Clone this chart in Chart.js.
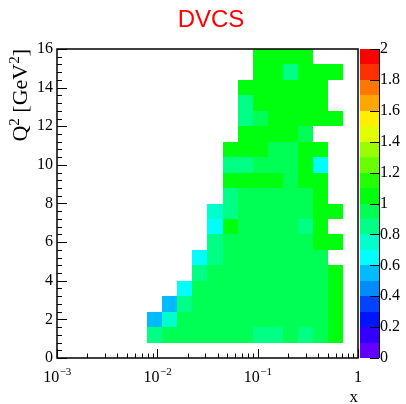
<!DOCTYPE html>
<html>
<head>
<meta charset="utf-8">
<script src="https://cdn.jsdelivr.net/npm/chart.js@4.4.0/dist/chart.umd.min.js"></script>
<style>
  html, body { margin: 0; padding: 0; background: #fff; }
  #wrap { width: 406px; height: 404px; }
</style>
</head>
<body>
<div id="wrap"><canvas id="dvcsChart" width="406" height="404"></canvas></div>
<script>
const _ = null;

// bin edges: 20 log bins in x, 20 bins in Q2
const xEdges = [0.001, 0.001413, 0.001995, 0.002818, 0.003981, 0.005623, 0.007943, 0.01122, 0.01585, 0.02239,
                0.03162, 0.04467, 0.06310, 0.08913, 0.1259, 0.1778, 0.2512, 0.3548, 0.5012, 0.7079, 1];
const q2Edges = [0, 0.8, 1.6, 2.4, 3.2, 4, 4.8, 5.6, 6.4, 7.2, 8, 8.8, 9.6, 10.4, 11.2, 12, 12.8, 13.6, 14.4, 15.2, 16];

// cell contents, one row per Q2 bin (bottom to top), one entry per x bin
const ratio = [
  [_,_,_,_,_,_,_,_,_,_,_,_,_,_,_,_,_,_,_,_],
  [_,_,_,_,_,_,.86,.96,.96,.96,.96,.96,.96,.86,.86,.96,.86,.96,1.04,_],
  [_,_,_,_,_,_,.56,.77,.96,.96,.96,.96,.96,.96,.96,.96,.96,.96,1.04,_],
  [_,_,_,_,_,_,_,.56,.86,.96,.96,.96,.96,.96,.96,.96,.96,.96,1.04,_],
  [_,_,_,_,_,_,_,_,.66,.96,.96,.96,.96,.96,.96,.96,.96,.96,1.04,_],
  [_,_,_,_,_,_,_,_,_,.86,.96,.96,.96,.96,.96,.96,.96,.96,1.04,_],
  [_,_,_,_,_,_,_,_,_,.66,.86,.96,.96,.96,.96,.96,.96,.96,_,_],
  [_,_,_,_,_,_,_,_,_,_,.86,.96,.96,.96,.96,.96,.96,1.04,1.04,_],
  [_,_,_,_,_,_,_,_,_,_,.66,1.04,.96,.96,.96,.96,.86,1.04,_,_],
  [_,_,_,_,_,_,_,_,_,_,.77,.86,.96,.96,.96,.96,.96,1.04,1.04,_],
  [_,_,_,_,_,_,_,_,_,_,_,.86,.96,.96,.96,.96,.96,1.04,_,_],
  [_,_,_,_,_,_,_,_,_,_,_,1.04,1.04,1.04,1.04,.96,1.04,1.04,_,_],
  [_,_,_,_,_,_,_,_,_,_,_,.86,.86,.96,.96,.96,1.04,.66,_,_],
  [_,_,_,_,_,_,_,_,_,_,_,1.04,1.04,1.04,.96,.96,1.04,1.04,_,_],
  [_,_,_,_,_,_,_,_,_,_,_,_,1.04,1.04,1.04,1.04,.96,_,_,_],
  [_,_,_,_,_,_,_,_,_,_,_,_,.86,.96,1.04,1.04,1.04,1.04,1.04,_],
  [_,_,_,_,_,_,_,_,_,_,_,_,.86,1.04,1.04,1.04,1.04,1.04,_,_],
  [_,_,_,_,_,_,_,_,_,_,_,_,1.04,1.04,1.04,1.04,1.04,1.04,_,_],
  [_,_,_,_,_,_,_,_,_,_,_,_,_,1.04,1.04,.86,1.04,1.04,1.04,_],
  [_,_,_,_,_,_,_,_,_,_,_,_,_,1.04,1.04,1.04,1.04,_,_,_]
];

// colour scale 0..2 in 20 levels
const zMin = 0;
const zMax = 2;
const palette = ['#6300ff', '#3300ff', '#0014ff', '#0044ff', '#008bff', '#00bbff', '#00fffc', '#00ffcc', '#00ff85', '#00ff55',
                 '#00ff0e', '#22ff00', '#69ff00', '#99ff00', '#e0ff00', '#ffee00', '#ffa700', '#ff7700', '#ff3000', '#ff0000'];

const xDecades = [-3, -2, -1, 0];
const xMinorMult = [2, 3, 4, 5, 6, 7, 8, 9];

const serif = '"Liberation Serif", "Times New Roman", serif';

function colorFor(v) {
    let k = Math.floor((v - zMin) / (zMax - zMin) * palette.length);
    k = Math.max(0, Math.min(palette.length - 1, k));
    return palette[k];
}

const heatmap = {
    id: 'heatmap',
    beforeDatasetsDraw(chart) {
        const { ctx, scales: { x, y } } = chart;
        ctx.save();
        ratio.forEach((row, i) => {
            row.forEach((v, j) => {
                if (v === null) return;
                const x0 = Math.round(x.getPixelForValue(xEdges[j]));
                const x1 = Math.round(x.getPixelForValue(xEdges[j + 1]));
                const y0 = Math.round(y.getPixelForValue(q2Edges[i + 1]));
                const y1 = Math.round(y.getPixelForValue(q2Edges[i]));
                ctx.fillStyle = colorFor(v);
                ctx.fillRect(x0, y0, x1 - x0, y1 - y0);
            });
        });
        ctx.restore();
    },
    afterDraw(chart) {
        const { ctx, chartArea: a, scales: { x, y, z } } = chart;
        ctx.save();

        // colour bar
        const barL = a.right + 2;
        const barR = a.right + 21;
        const step = (zMax - zMin) / palette.length;
        palette.forEach((c, k) => {
            const yt = Math.round(z.getPixelForValue(zMin + (k + 1) * step));
            const yb = Math.round(z.getPixelForValue(zMin + k * step));
            ctx.fillStyle = c;
            ctx.fillRect(barL, yt, barR - barL, yb - yt);
        });
        ctx.strokeStyle = '#000';
        ctx.lineWidth = 1;
        ctx.beginPath();
        ctx.moveTo(barR + 0.5, a.top);
        ctx.lineTo(barR + 0.5, a.bottom);
        z.ticks.forEach(t => {
            const py = Math.round(z.getPixelForValue(t.value)) + 0.5;
            ctx.moveTo(barR, py);
            ctx.lineTo(barR - 9, py);
        });
        ctx.stroke();

        // frame
        ctx.lineWidth = 1.5;
        ctx.strokeRect(a.left, a.top, a.right - a.left, a.bottom - a.top);

        // x ticks (inside)
        ctx.lineWidth = 1;
        ctx.beginPath();
        xDecades.forEach(d => {
            const px = Math.round(x.getPixelForValue(Math.pow(10, d))) + 0.5;
            ctx.moveTo(px, a.bottom);
            ctx.lineTo(px, a.bottom - 9);
            if (d < 0) {
                xMinorMult.forEach(m => {
                    const mx = Math.round(x.getPixelForValue(m * Math.pow(10, d))) + 0.5;
                    ctx.moveTo(mx, a.bottom);
                    ctx.lineTo(mx, a.bottom - 4.5);
                });
            }
        });
        // y ticks (inside)
        for (let q = 0; q <= 16.001; q += 0.4) {
            const py = Math.round(y.getPixelForValue(q)) + 0.5;
            const major = Math.abs(q / 2 - Math.round(q / 2)) < 1e-6;
            ctx.moveTo(a.left, py);
            ctx.lineTo(a.left + (major ? 10 : 5), py);
        }
        ctx.stroke();

        // x labels with exponents
        ctx.fillStyle = '#000';
        ctx.textBaseline = 'alphabetic';
        ctx.textAlign = 'left';
        xDecades.forEach(d => {
            const px = x.getPixelForValue(Math.pow(10, d));
            if (d === 0) {
                ctx.font = '16px ' + serif;
                ctx.textAlign = 'center';
                ctx.fillText('1', px, 382);
                ctx.textAlign = 'left';
                return;
            }
            const base = '10';
            const exp = '\u2212' + Math.abs(d);
            ctx.font = '16px ' + serif;
            const wb = ctx.measureText(base).width;
            ctx.font = '11px ' + serif;
            const we = ctx.measureText(exp).width;
            const x0 = px - (wb + we) / 2;
            ctx.font = '16px ' + serif;
            ctx.fillText(base, x0, 382);
            ctx.font = '11px ' + serif;
            ctx.fillText(exp, x0 + wb + 0.5, 375);
        });

        // x title
        ctx.font = '17px ' + serif;
        ctx.textAlign = 'right';
        ctx.fillText('x', a.right, 402);

        // y title, rotated, ending at top of frame
        const parts = [['Q', 22, 0], ['2', 15, 8], [' [GeV', 22, 0], ['2', 15, 8], [']', 22, 0]];
        let total = 0;
        parts.forEach(p => { ctx.font = p[1] + 'px ' + serif; total += ctx.measureText(p[0]).width; });
        ctx.translate(27, a.top + total);
        ctx.rotate(-Math.PI / 2);
        ctx.textAlign = 'left';
        let cx = 0;
        parts.forEach(p => {
            ctx.font = p[1] + 'px ' + serif;
            ctx.fillText(p[0], cx, -p[2]);
            cx += ctx.measureText(p[0]).width;
        });
        ctx.setTransform(1, 0, 0, 1, 0, 0);

        // main title
        ctx.fillStyle = '#ff0000';
        ctx.font = '24px "Liberation Sans", Arial, sans-serif';
        ctx.textAlign = 'center';
        ctx.fillText('DVCS', 211, 27);

        ctx.restore();
    }
};

Chart.defaults.font.family = serif;
Chart.defaults.color = '#000';

const dvcsChart = new Chart(document.getElementById('dvcsChart').getContext('2d'), {
    type: 'scatter',
    data: { datasets: [] },
    options: {
        responsive: false,
        animation: false,
        devicePixelRatio: 1,
        layout: { padding: { top: 49, left: 0, right: 0, bottom: 0 } },
        plugins: { legend: { display: false }, tooltip: { enabled: false } },
        scales: {
            x: {
                type: 'logarithmic',
                position: 'bottom',
                min: 0.001,
                max: 1,
                grid: { display: false, drawTicks: false },
                border: { display: false },
                ticks: { display: false },
                afterFit(s) { s.height = 46; }
            },
            y: {
                type: 'linear',
                position: 'left',
                min: 0,
                max: 16,
                grid: { display: false, drawTicks: false },
                border: { display: false },
                ticks: { stepSize: 2, padding: 4, font: { size: 16 }, color: '#000' },
                afterFit(s) { s.width = 57; }
            },
            z: {
                type: 'linear',
                position: 'right',
                min: zMin,
                max: zMax,
                grid: { display: false, drawTicks: false },
                border: { display: false },
                ticks: {
                    stepSize: 0.2, padding: 22, font: { size: 16 }, color: '#000', autoSkip: false,
                    callback: v => String(Math.round(v * 10) / 10)
                },
                afterFit(s) { s.width = 48; }
            }
        }
    },
    plugins: [heatmap]
});
</script>
</body>
</html>
